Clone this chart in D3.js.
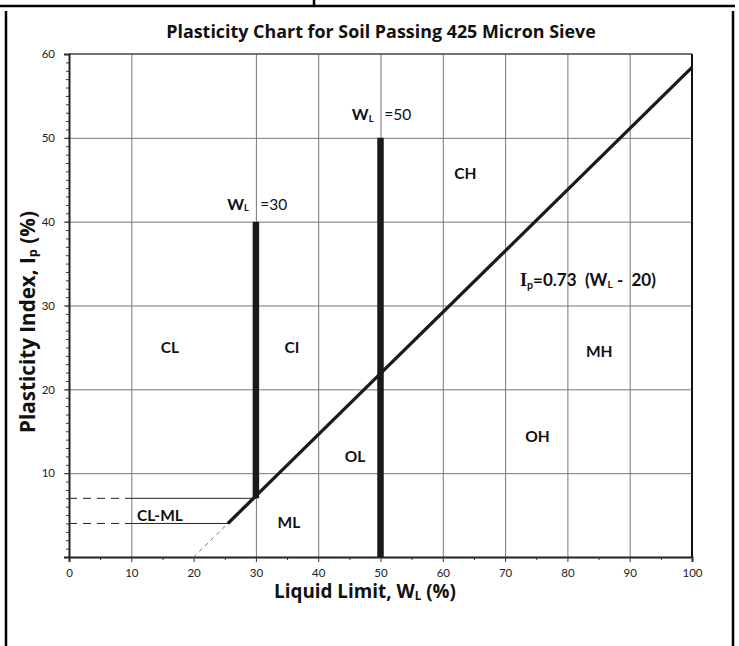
<!DOCTYPE html>
<html><head><meta charset="utf-8">
<script src="https://cdn.jsdelivr.net/npm/d3@7"></script>
<style>
html,body{margin:0;padding:0;background:#fff;}
svg{display:block;font-family:Lato,"Open Sans",sans-serif;}
text{white-space:pre;}
</style></head><body>
<svg id="chart" width="739" height="646"></svg>
<script>
// ---- data ----
const xTickValues = [0,10,20,30,40,50,60,70,80,90,100];
const xMinorTickValues = [5,15,25,35,45,55,65,75,85,95];
const yTickValues = [10,20,30,40,50,60];
const xGridValues = [10,30,40,50,60,70,80,90];
const yGridValues = [10,20,30,40,50];
const aLineWL = [25.5, 100];
const aLineIp = [4, 58.4];
const aLineExtWL = [20, 25.5];
const aLineExtIp = [0, 4];
const barWL = [30, 50];
const barIpBottom = [7, 0];
const barIpTop = [40, 50];
const boundaryIp = [7, 4];
const boundaryDashEndWL = [10, 10];
const boundarySolidEndWL = [30, 25.5];
const zoneNames = ["CL","CI","CH","MH","OH","OL","ML","CL-ML"];
const zoneWL = [16.2, 35.8, 63.6, 85.1, 75.2, 45.9, 35.3, 14.6];
const zoneIp = [25, 25, 45.7, 24.5, 14.4, 12, 4.1, 5];
const wlMarkValues = ["=30","=50"];
const wlMarkWL = [25.4, 45.4];
const wlMarkValueWL = [30.7, 50.6];
const wlMarkIp = [41.4, 52.1];
const titleText = "Plasticity Chart for Soil Passing 425 Micron Sieve";

// ---- layout ----
const svg = d3.select("#chart");
const x = d3.scaleLinear().domain([0,100]).range([69,692]);
const y = d3.scaleLinear().domain([0,60]).range([557,54]);
const boldFont = "'Open Sans',Lato,sans-serif";

function fitWidth(sel, target){
  const w = sel.node().getComputedTextLength();
  const fs = +sel.attr("font-size");
  sel.attr("font-size", fs*target/w);
}

// outer frame (table cell borders)
const frame = svg.append("g").attr("stroke","#000").attr("stroke-width",2.5);
frame.append("line").attr("x1",0).attr("x2",735).attr("y1",6).attr("y2",6);
frame.append("line").attr("x1",314).attr("x2",314).attr("y1",0).attr("y2",6);
frame.append("line").attr("x1",6).attr("x2",6).attr("y1",11).attr("y2",646);
frame.append("line").attr("x1",733).attr("x2",733).attr("y1",11).attr("y2",646);

// title
const title = svg.append("text").attr("x",381).attr("y",38).attr("text-anchor","middle")
  .attr("font-family",boldFont).attr("font-size",16).attr("font-weight","bold").attr("fill","#111").text(titleText);
fitWidth(title, 430);

// gridlines
const grid = svg.append("g").attr("stroke","#777").attr("stroke-width",1);
grid.selectAll("line.v").data(xGridValues).join("line").attr("class","v")
  .attr("x1",d=>x(d)+0.5).attr("x2",d=>x(d)+0.5).attr("y1",y(0)).attr("y2",y(60));
grid.selectAll("line.h").data(yGridValues).join("line").attr("class","h")
  .attr("y1",d=>y(d)+0.5).attr("y2",d=>y(d)+0.5).attr("x1",x(0)).attr("x2",x(100));

// plot border top/right
svg.append("line").attr("x1",x(0)).attr("x2",x(100)).attr("y1",y(60)).attr("y2",y(60))
  .attr("stroke","#444").attr("stroke-width",1.5);
svg.append("line").attr("x1",x(100)).attr("x2",x(100)).attr("y1",y(60)).attr("y2",y(0))
  .attr("stroke","#111").attr("stroke-width",2);

// axes
const xAxis = svg.append("g").attr("transform",`translate(0,${y(0)})`)
  .call(d3.axisBottom(x).tickValues(xTickValues).tickSize(5).tickPadding(7).tickFormat(d3.format("d")));
const xMinor = svg.append("g").attr("transform",`translate(0,${y(0)})`)
  .call(d3.axisBottom(x).tickValues(xMinorTickValues).tickSize(3).tickFormat(""));
const yAxis = svg.append("g").attr("transform",`translate(${x(0)},0)`)
  .call(d3.axisLeft(y).tickValues(yTickValues).tickSize(5).tickPadding(9).tickFormat(d3.format("d")));
const yMinor = svg.append("g").attr("transform",`translate(${x(0)},0)`)
  .call(d3.axisLeft(y).tickValues(d3.range(1,60)).tickSize(3).tickFormat(""));
[xAxis,xMinor,yAxis,yMinor].forEach(a=>{
  a.select(".domain").attr("stroke","#222").attr("stroke-width",2);
  a.selectAll(".tick line").attr("stroke","#333").attr("stroke-width",1);
  a.selectAll(".tick text").attr("font-size",11.5).attr("fill","#222")
    .attr("font-family","Lato,'Open Sans',sans-serif");
});
xMinor.select(".domain").remove();
yMinor.select(".domain").remove();

// boundary lines Ip=7 and Ip=4
boundaryIp.forEach((ip,i)=>{
  svg.append("line").attr("x1",x(0)).attr("x2",x(boundaryDashEndWL[i]))
    .attr("y1",y(ip)).attr("y2",y(ip)).attr("stroke","#222").attr("stroke-width",1)
    .attr("stroke-dasharray","8,6");
  svg.append("line").attr("x1",x(boundaryDashEndWL[i])).attr("x2",x(boundarySolidEndWL[i]))
    .attr("y1",y(ip)).attr("y2",y(ip)).attr("stroke","#222").attr("stroke-width",1);
});

// A-line extension (dashed)
const line = d3.line().x(d=>x(d[0])).y(d=>y(d[1]));
svg.append("path").attr("d",line(d3.zip(aLineExtWL,aLineExtIp)))
  .attr("fill","none").attr("stroke","#777").attr("stroke-width",1).attr("stroke-dasharray","4,4");
// A-line
svg.append("path").attr("d",line(d3.zip(aLineWL,aLineIp)))
  .attr("fill","none").attr("stroke","#1a1a1a").attr("stroke-width",3.3);

// vertical WL bars
barWL.forEach((wl,i)=>{
  svg.append("line").attr("x1",x(wl)).attr("x2",x(wl))
    .attr("y1",y(barIpBottom[i])).attr("y2",y(barIpTop[i]))
    .attr("stroke","#1a1a1a").attr("stroke-width",6.5);
});

// zone labels
svg.append("g").selectAll("text").data(zoneNames).join("text")
  .attr("x",(d,i)=>x(zoneWL[i])).attr("y",(d,i)=>y(zoneIp[i]))
  .attr("dy","0.36em").attr("text-anchor","middle")
  .attr("font-size",15.5).attr("font-weight","bold").attr("fill","#111").text(d=>d);

// W_L marks
wlMarkValues.forEach((v,i)=>{
  const t = svg.append("text").attr("x",x(wlMarkWL[i])).attr("y",y(wlMarkIp[i]))
    .attr("font-size",16).attr("font-weight","bold").attr("fill","#111");
  t.append("tspan").text("W");
  t.append("tspan").attr("font-size","58%").attr("dy","0.15em").text("L");
  svg.append("text").attr("x",x(wlMarkValueWL[i])).attr("y",y(wlMarkIp[i]))
    .attr("font-size",15.5).attr("fill","#111").text(v);
});

// equation
const eq = svg.append("text").attr("x",520).attr("y",y(32.3))
  .attr("font-size",15).attr("font-weight","bold").attr("fill","#111");
eq.append("tspan").attr("font-family","'Liberation Serif','Times New Roman',serif").attr("font-size","107%").text("I");
eq.append("tspan").attr("font-size","62%").attr("dy","0.3em").text("p");
eq.append("tspan").attr("dy","-0.19em").text("=0.73  (W");
eq.append("tspan").attr("font-size","60%").attr("dy","0.15em").text("L");
eq.append("tspan").attr("dy","-0.09em").text(" -  20)");
fitWidth(eq, 136);

// axis titles
const xt = svg.append("text").attr("x",365).attr("y",598).attr("text-anchor","middle")
  .attr("font-family",boldFont).attr("font-size",16).attr("font-weight","bold").attr("fill","#111");
xt.append("tspan").text("Liquid Limit, W");
xt.append("tspan").attr("font-size","62%").attr("dy","0.15em").text("L");
xt.append("tspan").attr("dy","-0.09em").text(" (%)");
fitWidth(xt, 182);

const yt = svg.append("text").attr("transform","translate(35,322) rotate(-90)")
  .attr("text-anchor","middle").attr("font-family",boldFont).attr("font-size",16).attr("font-weight","bold").attr("fill","#111");
yt.append("tspan").text("Plasticity Index, I");
yt.append("tspan").attr("font-size","62%").attr("dy","0.15em").text("p");
yt.append("tspan").attr("dy","-0.09em").text(" (%)");
fitWidth(yt, 222);
</script>
</body></html>
